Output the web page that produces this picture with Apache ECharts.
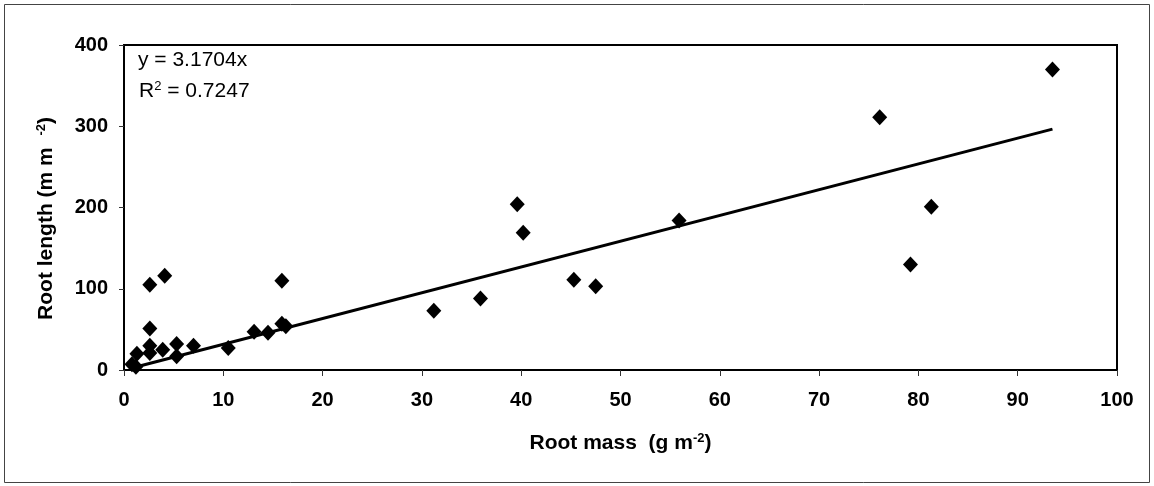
<!DOCTYPE html>
<html>
<head>
<meta charset="utf-8">
<script src="https://cdn.jsdelivr.net/npm/echarts@6/dist/echarts.min.js"></script>
<style>
  html, body { margin: 0; padding: 0; background: #fff; }
  #chart { width: 1154px; height: 486px; }
</style>
</head>
<body>
<div id="chart"></div>
<script>
// Root mass (g m-2) and root length (m m-2) for each sample
const rootMass = [0.8, 1.2, 1.3, 2.6, 2.6, 2.6, 2.6, 3.9, 4.1, 5.3, 5.3, 7.0, 10.5, 13.1, 14.5, 15.9, 15.9, 16.3,
                  31.2, 35.9, 39.6, 40.2, 45.3, 47.5, 55.9, 76.1, 79.2, 81.3, 93.5];
const rootLength = [7, 4, 20, 105, 51, 30, 21, 25, 116, 32, 17, 30, 27, 47, 46, 110, 57, 54,
                    73, 88, 204, 169, 111, 103, 184, 311, 130, 201, 370];

// Linear fit through the origin
const slope = 3.1704;
const rSquared = 0.7247;

const xTicks = [0, 10, 20, 30, 40, 50, 60, 70, 80, 90, 100];
const yTicks = [0, 100, 200, 300, 400];

const points = rootMass.map((m, i) => [m, rootLength[i]]);
const xMin = Math.min(...rootMass);
const xMax = Math.max(...rootMass);
const fitLine = [[xMin, slope * xMin], [xMax, slope * xMax]];

const font = '"Liberation Sans", Arial, sans-serif';

const chart = echarts.init(document.getElementById('chart'), null, { renderer: 'canvas' });
chart.setOption({
  animation: false,
  backgroundColor: '#fff',
  grid: {
    left: 124, top: 45, right: 37, bottom: 116,
    show: true, borderColor: '#000', borderWidth: 2, backgroundColor: '#fff'
  },
  xAxis: {
    type: 'value',
    min: xTicks[0], max: xTicks[xTicks.length - 1], interval: 10,
    splitLine: { show: false },
    axisLine: { show: true, onZero: false, lineStyle: { color: '#000', width: 2 } },
    axisTick: { show: true, inside: false, length: 6, lineStyle: { color: '#333', width: 1 } },
    axisLabel: { margin: 20, fontFamily: font, fontSize: 20, fontWeight: 'bold', color: '#000' },
    name: '{t|Root mass  (g m}{s|-2}{t|)}',
    nameLocation: 'middle',
    nameGap: 62,
    nameTextStyle: {
      rich: {
        t: { fontFamily: font, fontSize: 21, fontWeight: 'bold', color: '#000' },
        s: { fontFamily: font, fontSize: 13, fontWeight: 'bold', color: '#000', verticalAlign: 'top', padding: [0, 0, 9, 0] }
      }
    }
  },
  yAxis: {
    type: 'value',
    min: yTicks[0], max: yTicks[yTicks.length - 1], interval: 100,
    splitLine: { show: false },
    axisLine: { show: true, onZero: false, lineStyle: { color: '#000', width: 2 } },
    axisTick: { show: true, inside: false, length: 5, lineStyle: { color: '#333', width: 1 } },
    axisLabel: { margin: 16, fontFamily: font, fontSize: 20, fontWeight: 'bold', color: '#000' },
    name: '{t|Root length (m m  }{s|-2}{t|)}',
    nameLocation: 'middle',
    nameGap: 67,
    nameTextStyle: {
      padding: [0, 22, 0, 0],
      rich: {
        t: { fontFamily: font, fontSize: 21, fontWeight: 'bold', color: '#000' },
        s: { fontFamily: font, fontSize: 13, fontWeight: 'bold', color: '#000', verticalAlign: 'top', padding: [0, 0, 9, 0] }
      }
    }
  },
  series: [
    {
      name: 'Samples',
      type: 'scatter',
      data: points,
      symbol: 'diamond',
      symbolSize: [15, 16],
      itemStyle: { color: '#000', opacity: 1 },
      z: 3
    },
    {
      name: 'Linear fit',
      type: 'line',
      data: fitLine,
      showSymbol: false,
      symbol: 'none',
      lineStyle: { color: '#000', width: 3 },
      z: 2
    }
  ],
  graphic: [
    {
      type: 'rect',
      shape: { x: 4.5, y: 4.5, width: 1145, height: 478 },
      style: { fill: 'none', stroke: '#444', lineWidth: 1 },
      silent: true
    },
    {
      type: 'text',
      left: 138, top: 50,
      style: {
        text: 'y = ' + slope.toFixed(4) + 'x',
        font: '21px ' + font,
        fill: '#000'
      }
    },
    {
      type: 'text',
      left: 139, top: 80,
      style: {
        text: '{t|R}{s|2}{t| = ' + rSquared.toFixed(4) + '}',
        rich: {
          t: { font: '21px ' + font, fill: '#000' },
          s: { font: '13px ' + font, fill: '#000', verticalAlign: 'top', padding: [0, 0, 9, 0] }
        }
      }
    }
  ]
});
</script>
</body>
</html>
